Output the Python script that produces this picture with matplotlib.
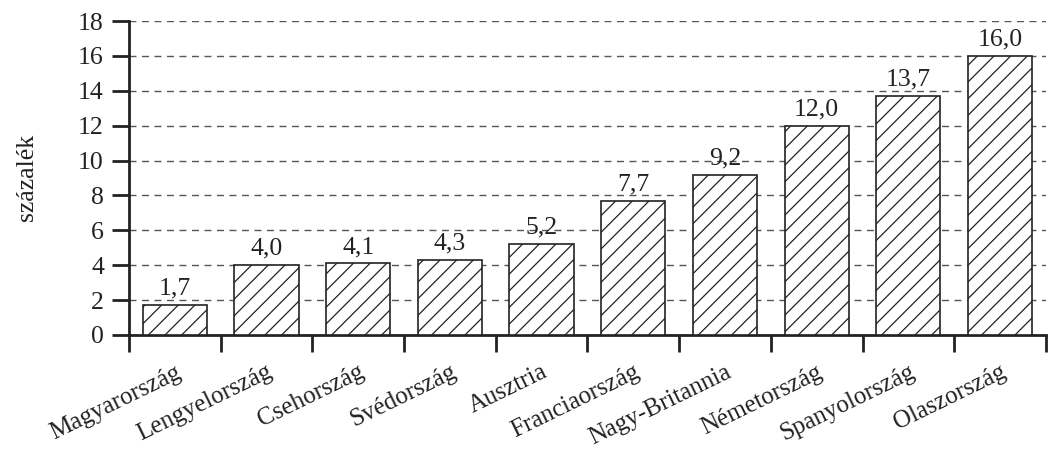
import matplotlib
matplotlib.use("Agg")
import matplotlib.pyplot as plt
import numpy as np

countries = ["Magyarország", "Lengyelország", "Csehország", "Svédország", "Ausztria",
             "Franciaország", "Nagy-Britannia", "Németország", "Spanyolország", "Olaszország"]
values = [1.7, 4.0, 4.1, 4.3, 5.2, 7.7, 9.2, 12.0, 13.7, 16.0]
y_ticks = [0, 2, 4, 6, 8, 10, 12, 14, 16, 18]

plt.rcParams["font.family"] = ["Liberation Serif", "DejaVu Serif"]
plt.rcParams["hatch.linewidth"] = 0.9
plt.rcParams["hatch.color"] = "#333333"

fig = plt.figure(figsize=(10.48, 4.49), dpi=100)
ax = fig.add_axes([0.123, 0.254, 0.875, 0.699])

x = np.arange(len(countries))
ax.bar(x, values, width=0.70, facecolor="white", edgecolor="#222222",
       linewidth=1.2, hatch="//", zorder=3)

for xi, v in zip(x, values):
    ax.text(xi, v + 0.6, f"{v:.1f}".replace(".", ","), ha="center", va="baseline",
            fontsize=18.5, color="#222222", zorder=4)

ax.set_xlim(-0.5, len(countries) - 0.5)
ax.set_ylim(0, 18)
ax.set_yticks(y_ticks)
ax.set_yticklabels([str(t) for t in y_ticks], fontsize=18.5, color="#222222")
ax.yaxis.grid(True, linestyle=(0, (5, 4)), color="#555555", linewidth=1.0, zorder=0)
ax.set_axisbelow(True)

# category boundaries carry the tick marks; labels sit under the bar centres
ax.set_xticks(np.arange(-0.5, len(countries) + 0.5, 1.0))
ax.set_xticklabels([])
ax.tick_params(axis="x", direction="out", length=12, width=2, color="#222222")
ax.tick_params(axis="y", direction="out", length=12, width=2, color="#222222", pad=6)
for xi, name in zip(x, countries):
    ax.text(xi + 0.0, -1.5, name, rotation=26, ha="right", va="top",
            rotation_mode="anchor", fontsize=18, color="#222222")

for side in ("top", "right"):
    ax.spines[side].set_visible(False)
for side in ("left", "bottom"):
    ax.spines[side].set_linewidth(2)
    ax.spines[side].set_color("#222222")

fig.text(0.026, 0.604, "százalék", rotation=90, ha="center", va="center",
         fontsize=18.5, color="#222222")

fig.savefig("out.png", dpi=100)
